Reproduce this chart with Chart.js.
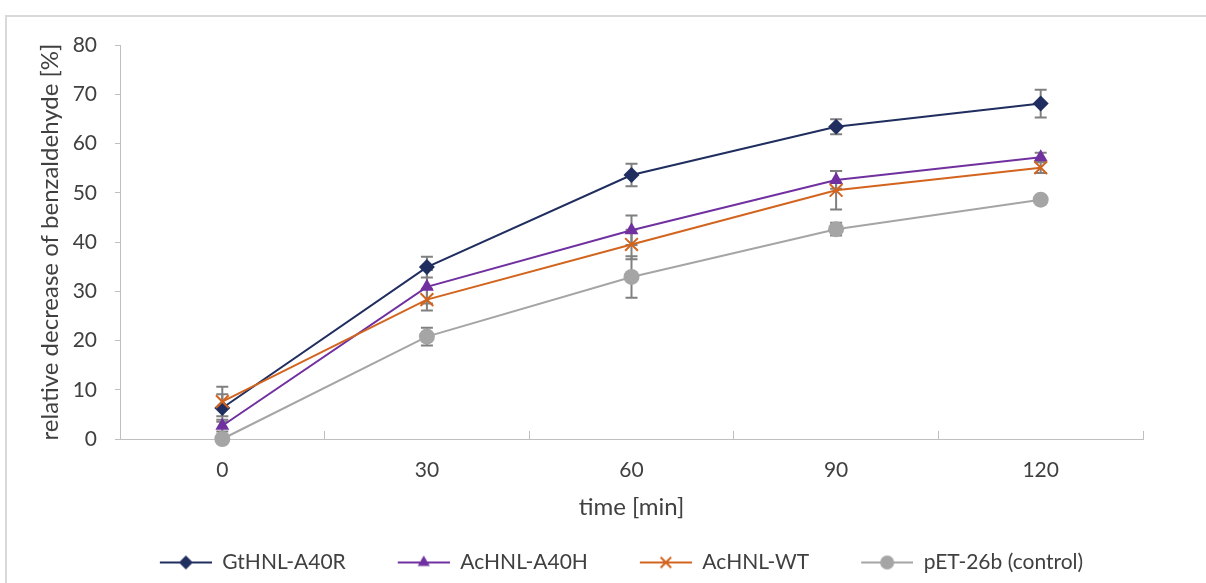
<!DOCTYPE html>
<html>
<head>
<meta charset="utf-8">
<script src="https://cdn.jsdelivr.net/npm/chart.js@4"></script>
<style>
    html, body { margin: 0; padding: 0; background: #fff; overflow: hidden; }
    #frame { position: absolute; left: 5px; top: 15px; width: 1300px; height: 700px; border: 2px solid #d9d9d9; }
    #wrap { position: absolute; left: 0; top: 0; width: 1206px; height: 583px; }
</style>
</head>
<body>
<div id="frame"></div>
<div id="wrap"><canvas id="chart" width="1206" height="583"></canvas></div>
<script>
// --- Data ---
const timeLabels = ["0", "30", "60", "90", "120"];

const gtHnlA40R = [6.3, 34.9, 53.6, 63.4, 68.1];
const gtHnlA40RErr = [2.8, 2.1, 2.3, 1.5, 2.8];

const acHnlA40H = [2.7, 30.9, 42.4, 52.6, 57.2];
const acHnlA40HErr = [1.2, 3.4, 3.0, 1.8, 0.9];

const acHnlWT = [7.6, 28.3, 39.5, 50.5, 55.1];
const acHnlWTErr = [3.0, 2.2, 3.0, 3.9, 1.1];

const pEt26b = [0.0, 20.8, 32.9, 42.6, 48.6];
const pEt26bErr = [0.4, 1.8, 4.2, 1.3, 0.4];

const textColor = "#404040";
const axisColor = "#bfbfbf";
const fontFamily = "Lato, 'Open Sans', sans-serif";

// --- Marker drawing (used for the legend icons) ---
function drawMarker(ctx, style, x, y, r) {
    ctx.beginPath();
    if (style === "rectRot") {
        ctx.moveTo(x, y - r);
        ctx.lineTo(x + r, y);
        ctx.lineTo(x, y + r);
        ctx.lineTo(x - r, y);
        ctx.closePath();
        ctx.fill();
    } else if (style === "triangle") {
        const h = r * Math.sqrt(3) / 2;
        ctx.moveTo(x, y - r);
        ctx.lineTo(x + h, y + r / 2);
        ctx.lineTo(x - h, y + r / 2);
        ctx.closePath();
        ctx.fill();
    } else if (style === "crossRot") {
        const d = r * 0.75;
        ctx.moveTo(x - d, y - d);
        ctx.lineTo(x + d, y + d);
        ctx.moveTo(x + d, y - d);
        ctx.lineTo(x - d, y + d);
        ctx.stroke();
    } else {
        ctx.arc(x, y, r, 0, Math.PI * 2);
        ctx.fill();
    }
}

// line + marker icon, with a transparent gap on the left for item spacing
const iconGap = 37;
const iconLine = 52;
function legendIcon(color, style, r) {
    const c = document.createElement("canvas");
    c.width = iconGap + iconLine;
    c.height = 22;
    const ctx = c.getContext("2d");
    ctx.strokeStyle = color;
    ctx.fillStyle = color;
    ctx.lineWidth = 2;
    ctx.beginPath();
    ctx.moveTo(iconGap, 11);
    ctx.lineTo(iconGap + iconLine, 11);
    ctx.stroke();
    drawMarker(ctx, style, iconGap + iconLine / 2, 11, r);
    return c;
}

// --- Error bars plugin ---
const errorBarPlugin = {
    id: "errorBars",
    beforeDatasetsDraw(chart) {
        const ctx = chart.ctx;
        const yScale = chart.scales.y;
        ctx.save();
        ctx.strokeStyle = "#808080";
        ctx.lineWidth = 2;
        chart.data.datasets.forEach((ds, i) => {
            const meta = chart.getDatasetMeta(i);
            meta.data.forEach((pt, j) => {
                const v = ds.data[j];
                const e = ds.errors[j];
                const yTop = yScale.getPixelForValue(v + e);
                const yBot = yScale.getPixelForValue(v - e);
                ctx.beginPath();
                ctx.moveTo(pt.x, yTop);
                ctx.lineTo(pt.x, yBot);
                ctx.moveTo(pt.x - 6, yTop);
                ctx.lineTo(pt.x + 6, yTop);
                ctx.moveTo(pt.x - 6, yBot);
                ctx.lineTo(pt.x + 6, yBot);
                ctx.stroke();
            });
        });
        ctx.restore();
    },
};

function makeDataset(label, data, errors, s, order) {
    return {
        label: label,
        data: data,
        errors: errors,
        yAxisID: "y",
        borderColor: s.color,
        backgroundColor: s.color,
        borderWidth: 2,
        pointStyle: s.style,
        pointRadius: s.radius,
        pointHoverRadius: s.radius,
        pointBackgroundColor: s.color,
        pointBorderColor: s.color,
        pointBorderWidth: s.style === "crossRot" ? 2 : 0,
        tension: 0,
        fill: false,
        clip: false,
        order: order,
    };
}

const seriesStyles = [
    { color: "#1f2d5f", style: "rectRot", radius: 8 },
    { color: "#7030a0", style: "triangle", radius: 8 },
    { color: "#d2641e", style: "crossRot", radius: 9 },
    { color: "#a5a5a5", style: "circle", radius: 8 },
];

const datasets = [
    makeDataset("GtHNL-A40R", gtHnlA40R, gtHnlA40RErr, seriesStyles[0], 4),
    makeDataset("AcHNL-A40H", acHnlA40H, acHnlA40HErr, seriesStyles[1], 3),
    makeDataset("AcHNL-WT", acHnlWT, acHnlWTErr, seriesStyles[2], 2),
    makeDataset("pET-26b (control)", pEt26b, pEt26bErr, seriesStyles[3], 1),
];

const legendIcons = seriesStyles.map((s) => legendIcon(s.color, s.style, 7));

const tickFont = { family: fontFamily, size: 21 };
const titleFont = { family: fontFamily, size: 24 };

new Chart(document.getElementById("chart").getContext("2d"), {
    type: "line",
    data: { labels: timeLabels, datasets: datasets },
    plugins: [errorBarPlugin],
    options: {
        responsive: false,
        animation: false,
        layout: { padding: { top: 45, left: 0, right: 0, bottom: 0 } },
        plugins: {
            tooltip: { enabled: false },
            legend: {
                position: "bottom",
                labels: {
                    usePointStyle: true,
                    pointStyleWidth: iconGap + iconLine,
                    padding: 15,
                    color: textColor,
                    font: tickFont,
                    generateLabels(chart) {
                        return chart.data.datasets.map((ds, i) => ({
                            text: ds.label,
                            pointStyle: legendIcons[i],
                            fillStyle: ds.borderColor,
                            strokeStyle: ds.borderColor,
                            lineWidth: 0,
                            fontColor: textColor,
                            hidden: false,
                            datasetIndex: i,
                        }));
                    },
                },
            },
        },
        scales: {
            x: {
                offset: true,
                grid: {
                    offset: true,
                    drawOnChartArea: false,
                    tickLength: -8,
                    color: axisColor,
                },
                border: { color: axisColor, width: 1 },
                ticks: { padding: 27, color: textColor, font: tickFont },
                title: {
                    display: true,
                    text: "time [min]",
                    color: textColor,
                    font: titleFont,
                    padding: { top: 0, bottom: 15 },
                },
                afterFit(scale) {
                    scale.height = 98;
                },
            },
            y: {
                min: 0,
                max: 80,
                ticks: { stepSize: 10, padding: 18, color: textColor, font: tickFont },
                grid: { drawOnChartArea: false, tickLength: 5, color: axisColor },
                border: { color: axisColor, width: 1 },
                title: {
                    display: true,
                    text: "relative decrease of benzaldehyde [%]",
                    color: textColor,
                    font: titleFont,
                    padding: { top: 36, bottom: 0 },
                },
                afterFit(scale) {
                    scale.width = 120;
                },
            },
            // empty spacer on the right of the plot
            yRight: {
                position: "right",
                display: true,
                grid: { display: false, drawTicks: false },
                border: { display: false },
                ticks: { display: false },
                afterFit(scale) {
                    scale.width = 63;
                },
            },
        },
    },
});
</script>
</body>
</html>
